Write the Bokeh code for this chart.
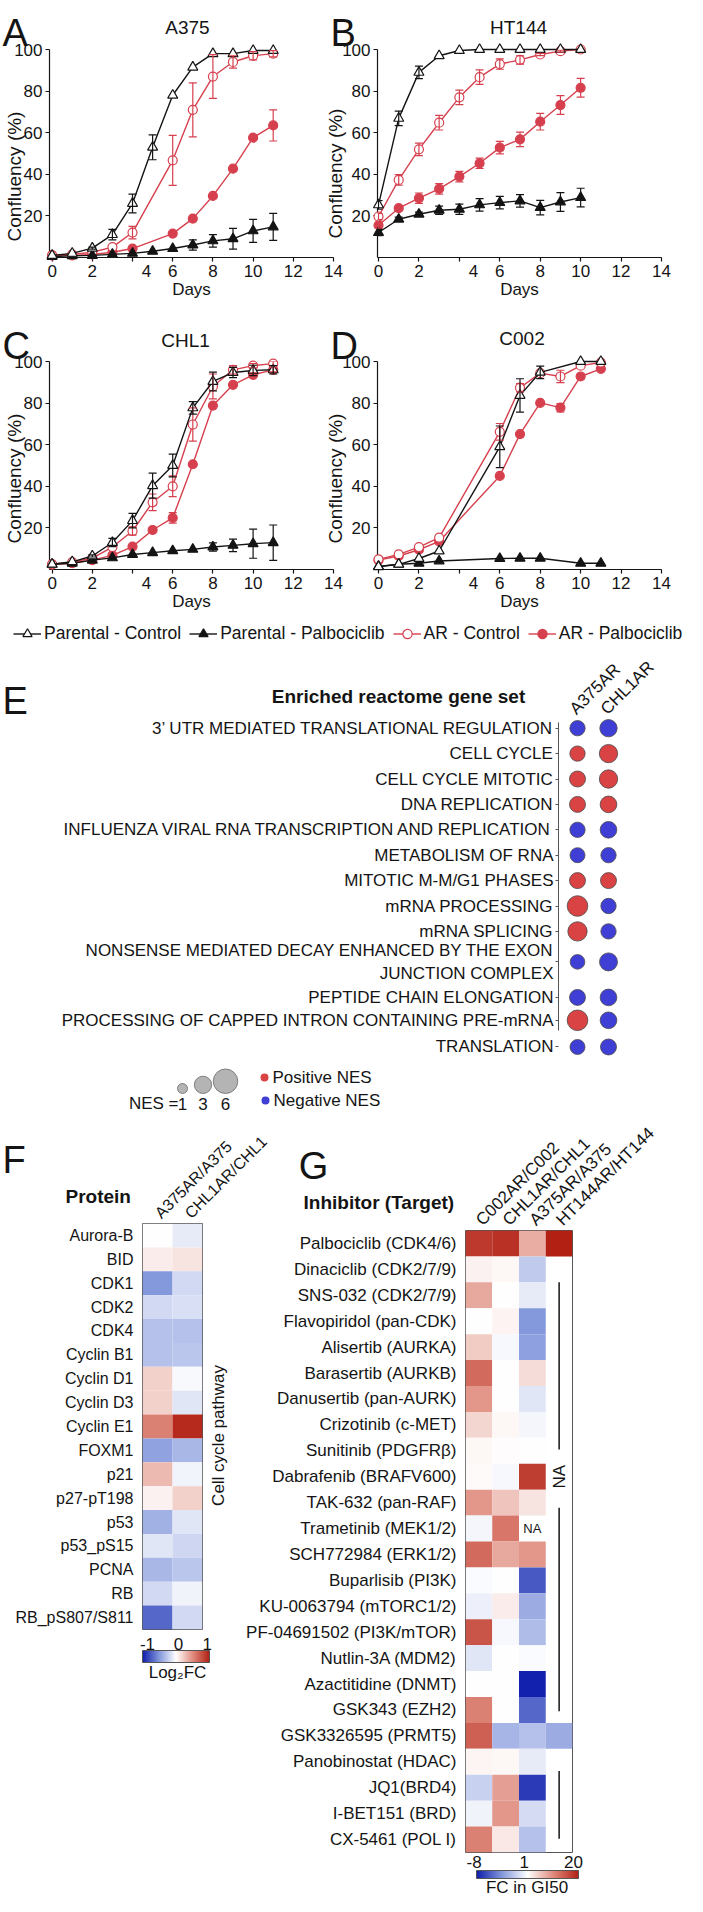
import math
import numpy as np
from bokeh.plotting import figure
from bokeh.layouts import row, column
from bokeh.models import (Range1d, FixedTicker, Legend, LegendItem, ColumnDataSource,
                          Whisker, TeeHead, FactorRange, LinearColorMapper, ColorBar)
from bokeh.transform import transform
from bokeh.core.properties import value
from bokeh.embed import file_html
from bokeh.resources import INLINE

FONT = "Liberation Sans"
INK = "#141414"
RED = "#d6404e"
POS = "#d94343"
NEG = "#3f3fd6"

# ---------------- data: growth curves (confluency %, days) ----------------
A375_days_par = [0, 1, 2, 3, 4, 5, 6, 7, 8, 9, 10, 11]
A375_par_ctrl = [1, 2, 4.5, 11, 26, 53, 78, 91.5, 98, 98, 99.5, 99.5]
A375_par_ctrl_err = [0, 0, 0.5, 2.5, 4.5, 6, 0, 0, 0, 0, 0, 0]
A375_par_palbo = [0.5, 0.8, 1, 1.5, 2, 3, 4.3, 6, 8, 9, 12.8, 14.7]
A375_par_palbo_err = [0, 0, 0, 0, 0, 0, 0, 2.5, 3, 5, 5.5, 6.5]
A375_days_ar = [0, 1, 2, 3, 4, 6, 7, 8, 9, 10, 11]
A375_ar_ctrl = [1, 1.5, 2.5, 5, 12, 46.7, 71, 87, 94, 97, 98]
A375_ar_ctrl_err = [0, 0, 0, 0, 3, 12, 13, 10.5, 3, 2, 1.5]
A375_ar_palbo = [1, 1, 1.5, 2.5, 4.3, 11.5, 18.7, 29.6, 42.7, 57.6, 63.5]
A375_ar_palbo_err = [0, 0, 0, 0, 0, 0, 0, 0, 0, 0, 7.5]

HT144_days = [0, 1, 2, 3, 4, 5, 6, 7, 8, 9, 10]
HT144_par_ctrl = [25.3, 66.9, 89, 97, 99.5, 100, 100, 100, 100, 100, 100]
HT144_par_ctrl_err = [2, 3.5, 3, 0, 0, 0, 0, 0, 0, 0, 0]
HT144_par_palbo = [12, 18.4, 20.8, 22.7, 23.2, 25.3, 26.4, 27.2, 24, 26.7, 28.8]
HT144_par_palbo_err = [1.5, 1, 1, 2, 2.5, 3, 3, 3, 3.5, 4.5, 4.5]
HT144_ar_ctrl = [19.7, 37.3, 52, 64.8, 77, 86.7, 93, 95, 97.6, 99.2, 100]
HT144_ar_ctrl_err = [1.5, 2.5, 3, 3.5, 3.5, 3.5, 2.5, 2, 0.5, 0.5, 0]
HT144_ar_palbo = [15.5, 23.7, 28.5, 33, 38.9, 45.3, 52.8, 56.8, 65.3, 73.3, 81.6]
HT144_ar_palbo_err = [1.5, 1, 2.5, 2.5, 2.5, 2.5, 3, 3.5, 4, 4.5, 4.5]

CHL1_days = [0, 1, 2, 3, 4, 5, 6, 7, 8, 9, 10, 11]
CHL1_par_ctrl = [2.5, 3.7, 6.5, 13, 23.5, 40.3, 50, 77.7, 90.4, 94.7, 95.7, 96]
CHL1_par_ctrl_err = [0, 0, 0.5, 2, 3.5, 6, 5.5, 3, 4.5, 2.5, 2.5, 2]
CHL1_par_palbo = [2.5, 3, 4.5, 5.6, 7.2, 8.1, 9, 9.7, 10.8, 11.6, 12.4, 12.9]
CHL1_par_palbo_err = [0, 0, 0, 0, 0, 0, 0, 0, 2, 3, 7, 8.5]
CHL1_ar_ctrl = [2.5, 3.5, 5.5, 10.8, 18.5, 32.3, 40, 69.7, 88, 96, 98, 99]
CHL1_ar_ctrl_err = [0, 0, 0, 0, 2, 4, 5, 8, 6, 2, 1, 1]
CHL1_ar_palbo = [2.5, 3, 4.5, 6.8, 11, 19, 24.8, 50.6, 78.8, 88.8, 93.6, 96]
CHL1_ar_palbo_err = [0, 0, 0, 0, 0, 0, 2.5, 0, 0, 0, 1, 1]

C002_days_par = [0, 1, 2, 3, 6, 7, 8, 10, 11]
C002_par_ctrl = [1.3, 2.5, 5.3, 8.9, 59, 83.7, 94.8, 100, 100]
C002_par_ctrl_err = [0, 0, 0, 0, 10, 8, 3, 0, 0]
C002_par_palbo = [1.5, 2.5, 3, 4.1, 5.3, 5.4, 5.4, 3, 3]
C002_par_palbo_err = [0, 0, 0, 0, 0, 0, 0, 0, 0]
C002_days_ar = [0, 1, 2, 3, 6, 7, 8, 9, 10, 11]
C002_ar_ctrl = [4.9, 7.3, 10.8, 15.3, 66.2, 87.4, 94.4, 92.8, 98, 99.5]
C002_ar_ctrl_err = [0, 0, 0, 0, 4, 2, 0, 3, 0, 0]
C002_ar_palbo = [4.5, 6.5, 9.5, 13.5, 45, 65.1, 80.1, 77.8, 92.8, 96.5]
C002_ar_palbo_err = [0, 0, 0, 0, 0, 0, 0, 2, 0, 0]

x_ticks = [0, 2, 4, 6, 8, 10, 12, 14]
y_ticks = [20, 40, 60, 80, 100]
legend_labels = ["Parental - Control", "Parental - Palbociclib", "AR - Control", "AR - Palbociclib"]

# ---------------- data: E (reactome NES) ----------------
E_terms = ["3\u2019 UTR MEDIATED TRANSLATIONAL REGULATION", "CELL CYCLE", "CELL CYCLE MITOTIC",
           "DNA REPLICATION", "INFLUENZA VIRAL RNA TRANSCRIPTION AND REPLICATION",
           "METABOLISM OF RNA", "MITOTIC M-M/G1 PHASES", "mRNA PROCESSING", "mRNA SPLICING",
           "NONSENSE MEDIATED DECAY ENHANCED BY THE EXON\nJUNCTION COMPLEX",
           "PEPTIDE CHAIN ELONGATION", "PROCESSING OF CAPPED INTRON CONTAINING PRE-mRNA",
           "TRANSLATION"]
E_samples = ["A375AR", "CHL1AR"]
E_nes_A375AR = [-2.35, 2.35, 2.56, 2.56, -2.35, -2.25, 2.56, 4.27, 3.74, -2.15, -2.56, 4.27, -2.25]
E_nes_CHL1AR = [-3.0, 3.36, 3.36, 2.78, -2.78, -2.35, 2.56, -2.35, -2.35, -3.24, -2.78, -2.78, -2.56]
NES_legend = [1, 3, 6]

# ---------------- data: F (protein log2FC) ----------------
F_proteins = ["Aurora-B", "BID", "CDK1", "CDK2", "CDK4", "Cyclin B1", "Cyclin D1", "Cyclin D3",
              "Cyclin E1", "FOXM1", "p21", "p27-pT198", "p53", "p53_pS15", "PCNA", "RB",
              "RB_pS807/S811"]
F_pairs = ["A375AR/A375", "CHL1AR/CHL1"]
F_A375 = [0.0, 0.08, -0.5, -0.18, -0.3, -0.3, 0.2, 0.2, 0.55, -0.45, 0.3, 0.06, -0.38, -0.12, -0.35, -0.18, -0.7]
F_CHL1 = [-0.1, 0.12, -0.18, -0.15, -0.3, -0.28, -0.03, -0.12, 0.95, -0.35, -0.05, 0.2, -0.12, -0.2, -0.28, -0.06, -0.18]

# ---------------- data: G (FC in GI50) ----------------
G_inhibitors = ["Palbociclib (CDK4/6)", "Dinaciclib (CDK2/7/9)", "SNS-032 (CDK2/7/9)",
                "Flavopiridol (pan-CDK)", "Alisertib (AURKA)", "Barasertib (AURKB)",
                "Danusertib (pan-AURK)", "Crizotinib (c-MET)", "Sunitinib (PDGFR\u03b2)",
                "Dabrafenib (BRAFV600)", "TAK-632 (pan-RAF)", "Trametinib (MEK1/2)",
                "SCH772984 (ERK1/2)", "Buparlisib (PI3K)", "KU-0063794 (mTORC1/2)",
                "PF-04691502 (PI3K/mTOR)", "Nutlin-3A (MDM2)", "Azactitidine (DNMT)",
                "GSK343 (EZH2)", "GSK3326595 (PRMT5)", "Panobinostat (HDAC)", "JQ1(BRD4)",
                "I-BET151 (BRD)", "CX-5461 (POL I)"]
G_pairs = ["C002AR/C002", "CHL1AR/CHL1", "A375AR/A375", "HT144AR/HT144"]
G_C002 = [17.7, 2.1, 8.2, 1.0, 5.2, 13.4, 9.6, 4.4, 1.6, 1.4, 9.6, 0.6, 13.4, 0.8, 0.3, 15.3, -0.1, 1.0, 11.5, 14.3, 1.8, -1.0, 0.5, 11.5]
G_CHL1 = [18.5, 1.6, 1.0, 2.0, 0.7, 1.0, 1.0, 1.6, 1.2, 0.7, 5.8, 12.4, 8.2, 1.0, 2.5, 0.7, 1.0, 1.0, 1.0, -2.2, 1.6, 9.0, 9.6, 2.9]
G_A375 = [7.7, -1.3, 0.1, -3.5, -3.1, 3.9, -0.1, 0.6, 1.0, 17.2, 3.3, None, 9.6, -5.8, -2.6, -1.9, 0.8, -7.8, -5.3, -1.7, 0.1, -6.9, -0.6, -1.7]
G_HT144 = [20.0, None, None, None, None, None, None, None, None, None, None, None, None, None,
           None, None, None, None, None, -2.6, None, None, None, None]
G_scale = [-8, 1, 20]
F_scale = [-1, 0, 1]


# ---------------- helpers ----------------
def make_palette(n=256):
    anchors_t = [-1.0, -0.5, 0.0, 0.5, 1.0]
    anchors_c = np.array([(15, 30, 172), (132, 152, 220), (255, 255, 255), (224, 140, 126), (178, 32, 20)], float)
    out = []
    for t in np.linspace(-1, 1, n):
        r = np.interp(t, anchors_t, anchors_c[:, 0])
        g = np.interp(t, anchors_t, anchors_c[:, 1])
        b = np.interp(t, anchors_t, anchors_c[:, 2])
        out.append("#%02x%02x%02x" % (int(round(r)), int(round(g)), int(round(b))))
    return out


PALETTE = make_palette()


def new_fig(W, H, xr, yr, L=0, R=0, T=0, B=0, **kw):
    p = figure(width=W, height=H, x_range=xr, y_range=yr, output_backend="svg",
               toolbar_location=None, min_border_left=L, min_border_right=R,
               min_border_top=T, min_border_bottom=B, frame_align=False, **kw)
    p.border_fill_color = None
    p.background_fill_color = None
    p.outline_line_color = None
    p.grid.visible = False
    return p


def texter(p, to_x, to_y):
    """text glyph placed at canvas-local pixel (lx, ly) of figure p, converted to data space"""
    def put(lx, ly, txt, size="17px", align="left", baseline="middle", angle_deg=0, bold=False):
        p.text(x=[to_x(lx)], y=[to_y(ly)], text=[txt], text_font=value(FONT),
               text_font_size=value(size), text_align=align, text_baseline=baseline,
               angle=math.radians(angle_deg), text_color=INK,
               text_font_style="bold" if bold else "normal", level="overlay")
    return put


def growth_panel(W, H, L, T, x0, title, letter, series, title_cx, title_base,
                 letter_x, letter_base, ylab_cx, ylab_cy, margin=None):
    FW, FH = 284, 208
    kw = {}
    if margin is not None:
        kw["margin"] = margin
    p = new_fig(W, H, Range1d(x0, 14), Range1d(0, 100), L=L, R=W - L - FW, T=T, B=H - T - FH, **kw)
    sx = FW / (14 - x0)
    sy = FH / 100.0

    for days, vals, errs, color, marker, fill, size in series:
        idx = [i for i, e in enumerate(errs) if e > 0]
        if idx:
            src = ColumnDataSource(dict(x=[days[i] for i in idx],
                                        lo=[vals[i] - errs[i] for i in idx],
                                        hi=[vals[i] + errs[i] for i in idx]))
            p.add_layout(Whisker(source=src, base="x", lower="lo", upper="hi",
                                 line_color=color, line_width=1.2, level="overlay",
                                 lower_head=TeeHead(size=8, line_color=color, line_width=1.2),
                                 upper_head=TeeHead(size=8, line_color=color, line_width=1.2)))
        p.line(days, vals, line_color=color, line_width=1.4, level="overlay")
        p.scatter(days, vals, marker=marker, size=size, fill_color=fill, line_color=color,
                  line_width=1.2, level="overlay")

    xa = p.xaxis[0]
    ya = p.yaxis[0]
    xa.ticker = FixedTicker(ticks=x_ticks)
    xa.major_label_overrides = {4: ""}
    ya.ticker = FixedTicker(ticks=y_ticks)
    for ax in (xa, ya):
        ax.axis_line_color = INK
        ax.axis_line_width = 1.2
        ax.major_tick_line_color = INK
        ax.major_tick_line_width = 1.2
        ax.major_tick_out = 4
        ax.major_tick_in = 0
        ax.minor_tick_line_color = None
        ax.major_label_standoff = 3
        ax.major_label_text_font = FONT
        ax.major_label_text_font_size = "17px"
        ax.major_label_text_color = INK
    xa.axis_label = "Days"
    xa.axis_label_text_font = FONT
    xa.axis_label_text_font_size = "17px"
    xa.axis_label_text_font_style = "normal"
    xa.axis_label_text_color = INK
    xa.axis_label_standoff = 0

    put = texter(p, lambda lx: x0 + (lx - L) / sx, lambda ly: 100 - (ly - T) / sy)
    # the "4" day label sits offset to the right of its tick in the original
    put(L + (4.7 - x0) * sx, T + FH + 7, "4", "17px", "center", "top")
    put(title_cx, title_base, title, "19px", "center", "alphabetic")
    put(letter_x, letter_base, letter, "38px", "left", "alphabetic")
    put(ylab_cx, ylab_cy, "Confluency (%)", "19px", "center", "middle", 90)
    return p


def series_for(d_par, pc, pce, pp, ppe, d_ar, arc, arce, arp, arpe):
    return [
        (d_ar, arp, arpe, RED, "circle", RED, 9),
        (d_ar, arc, arce, RED, "circle", "white", 9),
        (d_par, pp, ppe, INK, "triangle", INK, 10),
        (d_par, pc, pce, INK, "triangle", "white", 10),
    ]


pA = growth_panel(351, 310, 49, 49, -0.13, "A375", "A",
                  series_for(A375_days_par, A375_par_ctrl, A375_par_ctrl_err, A375_par_palbo, A375_par_palbo_err,
                             A375_days_ar, A375_ar_ctrl, A375_ar_ctrl_err, A375_ar_palbo, A375_ar_palbo_err),
                  187, 27.3, 2, 32, 13.5, 176)
pB = growth_panel(362, 310, 52, 49, -0.05, "HT144", "B",
                  series_for(HT144_days, HT144_par_ctrl, HT144_par_ctrl_err, HT144_par_palbo, HT144_par_palbo_err,
                             HT144_days, HT144_ar_ctrl, HT144_ar_ctrl_err, HT144_ar_palbo, HT144_ar_palbo_err),
                  193, 27.3, 5, 32, 10, 173, margin=(0, 0, 0, -26))
pC = growth_panel(351, 306, 49, 51, -0.13, "CHL1", "C",
                  series_for(CHL1_days, CHL1_par_ctrl, CHL1_par_ctrl_err, CHL1_par_palbo, CHL1_par_palbo_err,
                             CHL1_days, CHL1_ar_ctrl, CHL1_ar_ctrl_err, CHL1_ar_palbo, CHL1_ar_palbo_err),
                  185, 30, 2, 35, 13.5, 168)
pD = growth_panel(362, 306, 52, 51, -0.05, "C002", "D",
                  series_for(C002_days_par, C002_par_ctrl, C002_par_ctrl_err, C002_par_palbo, C002_par_palbo_err,
                             C002_days_ar, C002_ar_ctrl, C002_ar_ctrl_err, C002_ar_palbo, C002_ar_palbo_err),
                  196.5, 28, 5, 35, 10, 168, margin=(0, 0, 0, -26))

# ---------------- shared legend ----------------
pLeg = new_fig(687, 34, Range1d(0, 1), Range1d(0, 1), x_axis_location=None, y_axis_location=None)
leg_styles = [(INK, "triangle", "white"), (INK, "triangle", INK), (RED, "circle", "white"), (RED, "circle", RED)]
items = []
for lab, (c, m, f) in zip(legend_labels, leg_styles):
    lr = pLeg.line([-5, -4], [-5, -5], line_color=c, line_width=1.4)
    sr = pLeg.scatter([-5], [-5], marker=m, fill_color=f, line_color=c, line_width=1.2, size=9)
    items.append(LegendItem(label=lab, renderers=[lr, sr]))
pLeg.add_layout(Legend(items=items, orientation="horizontal", location=(13, 5), glyph_width=28,
                       glyph_height=23, label_height=23, label_standoff=3, spacing=8, padding=0, margin=0,
                       border_line_color=None, background_fill_alpha=0, label_text_font=FONT,
                       label_text_font_size="17.5px", label_text_color=INK))

# ---------------- E: enriched reactome gene sets ----------------
E_row_extra = [0, 0, 0, 0, 0, 0, 0, 0, 0, 0.2, 0.6, 0.5, 0.55]
E_pos = [i + g for i, g in enumerate(E_row_extra)]


def ex(lx):
    return (lx - 577) / 31.0


def ey(ly):
    return (ly - 77.7) / 25.4


pE = new_fig(687, 410, Range1d(ex(558), ex(687)), Range1d(ey(410), ey(0)), L=558,
             x_axis_location=None)
ya = pE.yaxis[0]
ya.ticker = FixedTicker(ticks=E_pos)
ya.major_label_overrides = {pos: t for pos, t in zip(E_pos, E_terms)}
ya.bounds = (ey(72), ey(380))
ya.axis_line_color = "#555555"
ya.major_tick_line_color = "#555555"
ya.major_tick_out = 3
ya.major_tick_in = 0
ya.minor_tick_line_color = None
ya.major_label_standoff = 2
ya.major_label_text_font = FONT
ya.major_label_text_font_size = "17px"
ya.major_label_text_color = INK

ex_x, ex_y, ex_s, ex_c = [], [], [], []
for j, nes_list in enumerate([E_nes_A375AR, E_nes_CHL1AR]):
    for pos, nes in zip(E_pos, nes_list):
        ex_x.append(j)
        ex_y.append(pos)
        ex_s.append(10 * math.sqrt(abs(nes)))
        ex_c.append(POS if nes > 0 else NEG)
pE.scatter(ex_x, ex_y, size=ex_s, fill_color=ex_c, line_color="#4a4a4a", line_width=0.8)
putE = texter(pE, ex, ey)
putE(2, 50, "E", size="38px", baseline="alphabetic")
putE(398, 46, "Enriched reactome gene set", size="19px", align="center", bold=True)
for j, s in enumerate(E_samples):
    putE(572 + 31 * j, 61, s, size="17px", angle_deg=45)

# NES size / sign legend
pN = new_fig(687, 53, Range1d(0, 687), Range1d(53, 0), x_axis_location=None, y_axis_location=None)
nes_x = [182, 202.5, 225]
nes_d = [10 * math.sqrt(v) for v in NES_legend]
pN.scatter(nes_x, [33 - d / 2 for d in nes_d], size=nes_d, fill_color="#b4b4b4", line_color="#6a6a6a",
           line_width=0.8)
putN = texter(pN, lambda v: v, lambda v: v)
putN(nes_x[0] - 4, 43, "NES =", align="right")
for xx, v in zip(nes_x, NES_legend):
    putN(xx, 43, str(v), align="center")
pN.scatter([264, 265], [17, 40], size=8, fill_color=[POS, NEG], line_color=None)
putN(272, 17, "Positive NES")
putN(273, 40, "Negative NES")

# ---------------- F: protein heatmap ----------------
F_mapper = LinearColorMapper(palette=PALETTE, low=-1, high=1)
fx, fy, fv = [], [], []
for col, vals in zip(F_pairs, [F_A375, F_CHL1]):
    for prot, v in zip(F_proteins, vals):
        fx.append(col)
        fy.append(prot)
        fv.append(v)
pF = new_fig(288, 783, FactorRange(*F_pairs), FactorRange(*F_proteins[::-1]),
             L=142, R=86, T=110, B=267, x_axis_location="above")
pF.rect(x="x", y="y", width=1, height=1, source=ColumnDataSource(dict(x=fx, y=fy, v=fv)),
        fill_color=transform("v", F_mapper), line_color=None)
pF.outline_line_color = "#555555"
pF.outline_line_width = 1
for ax in (pF.xaxis[0], pF.yaxis[0]):
    ax.axis_line_color = None
    ax.major_tick_line_color = None
    ax.minor_tick_line_color = None
    ax.major_label_text_font = FONT
    ax.major_label_text_font_size = "16px"
    ax.major_label_text_color = INK
pF.xaxis[0].major_label_orientation = math.pi / 4
pF.xaxis[0].major_label_standoff = 2
pF.yaxis[0].major_label_standoff = 3

F_row_px = 406 / len(F_proteins)
putF = texter(pF, lambda lx: (lx - 142) / 30.0, lambda ly: (516 - ly) / F_row_px)
putF(2, 47, "F", size="38px", baseline="alphabetic")
putF(65, 83, "Protein", size="19px", bold=True)
putF(218, 322, "Cell cycle pathway", size="17px", align="center", angle_deg=90)
pF.add_layout(ColorBar(color_mapper=F_mapper, orientation="horizontal", location=(0, -33), width=67,
                       height=12, padding=0, margin=0, ticker=FixedTicker(ticks=[]),
                       major_tick_line_color=None, minor_tick_line_color=None, label_standoff=0,
                       bar_line_color="#555555", background_fill_alpha=0, border_line_color=None))
for lx, t in zip([147, 178, 206.7], F_scale):
    putF(lx, 530, str(t), align="center")
putF(177, 559, "Log\u2082FC", align="center")

# ---------------- G: inhibitor GI50 heatmap ----------------
G_mapper = LinearColorMapper(palette=PALETTE, low=-1, high=1)
gx, gy, gt = [], [], []
for col, vals in zip(G_pairs, [G_C002, G_CHL1, G_A375, G_HT144]):
    for inh, v in zip(G_inhibitors, vals):
        if v is None:
            continue
        t = (v - G_scale[1]) / (G_scale[1] - G_scale[0]) if v < G_scale[1] else (v - G_scale[1]) / (G_scale[2] - G_scale[1])
        gx.append(col)
        gy.append(inh)
        gt.append(max(-1.0, min(1.0, t)))
pG = new_fig(444, 783, FactorRange(*G_pairs), FactorRange(*G_inhibitors[::-1]),
             L=216, R=115, T=114, B=44, x_axis_location="above", margin=(0, 0, 0, -45))
pG.rect(x="x", y="y", width=1, height=1, source=ColumnDataSource(dict(x=gx, y=gy, t=gt)),
        fill_color=transform("t", G_mapper), line_color=None)
pG.outline_line_color = "#555555"
pG.outline_line_width = 1
for ax in (pG.xaxis[0], pG.yaxis[0]):
    ax.axis_line_color = None
    ax.major_tick_line_color = None
    ax.minor_tick_line_color = None
    ax.major_label_text_font = FONT
    ax.major_label_text_font_size = "17px"
    ax.major_label_text_color = INK
pG.xaxis[0].major_label_orientation = math.pi / 4
pG.xaxis[0].major_label_standoff = 2
pG.yaxis[0].major_label_standoff = 3

NG = len(G_inhibitors)
G_row_px = 625 / NG


def row_bottom(name):
    return NG - 1 - G_inhibitors.index(name)


# NA markers (missing values) and the HT144 brackets
na_mid = row_bottom("Dabrafenib (BRAFV600)") + 0.5
pG.text(x=[2.5], y=[row_bottom("Trametinib (MEK1/2)") + 0.5], text=["NA"], text_font=value(FONT),
        text_font_size=value("13px"), text_align="center", text_baseline="middle", text_color=INK)
pG.text(x=[3.5], y=[na_mid], text=["NA"], text_font=value(FONT), text_font_size=value("17px"),
        text_align="center", text_baseline="middle", angle=math.pi / 2, text_color=INK)
seg_y0 = [row_bottom("SNS-032 (CDK2/7/9)") + 1.0, na_mid - 1.2, row_bottom("JQ1(BRD4)") + 1.14]
seg_y1 = [na_mid + 1.05, row_bottom("GSK343 (EZH2)") + 0.45, row_bottom("CX-5461 (POL I)") + 0.53]
pG.segment(x0=[3.5] * 3, y0=seg_y0, x1=[3.5] * 3, y1=seg_y1, line_color=INK, line_width=1.5)

putG = texter(pG, lambda lx: (lx - 216) / (113 / 4.0), lambda ly: (739 - ly) / G_row_px)
putG(40, 49, "G", size="38px", baseline="alphabetic")
putG(45, 86, "Inhibitor (Target)", size="19px", bold=True)
pG.add_layout(ColorBar(color_mapper=G_mapper, orientation="horizontal", location=(11, -26), width=102,
                       height=8, padding=0, margin=0, ticker=FixedTicker(ticks=[]),
                       major_tick_line_color=None, minor_tick_line_color=None, label_standoff=0,
                       bar_line_color="#555555", background_fill_alpha=0, border_line_color=None))
for lx, t in zip([225, 278, 330], G_scale):
    putG(lx, 749, str(t), align="center")
putG(281, 774, "FC in GI50", align="center")

layout = column(row(pA, pB), row(pC, pD), pLeg, pE, pN, row(pF, pG))
open("out.html", "w").write(file_html(layout, INLINE))
